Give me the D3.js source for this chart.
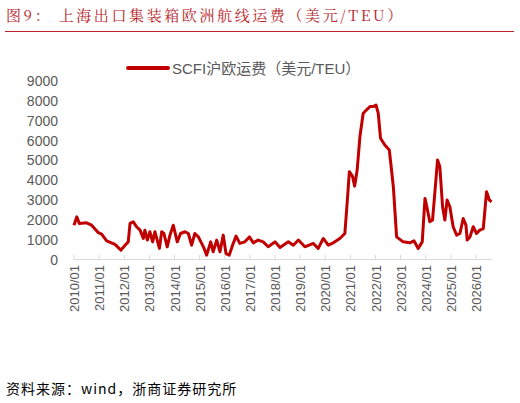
<!DOCTYPE html>
<html><head><meta charset="utf-8">
<script src="https://cdn.jsdelivr.net/npm/d3@7"></script>
<style>body{margin:0;background:#fff}text{font-family:"Liberation Sans","Noto Sans CJK SC",sans-serif}</style>
</head><body>
<svg id="chart" width="520" height="403"></svg>
<script>
// decimal years and SCFI Shanghai-Europe rates (USD/TEU)
const years = [2010.00,2010.11,2010.21,2010.50,2010.70,2010.97,2011.10,2011.30,2011.63,2011.87,2012.03,2012.16,2012.23,2012.36,2012.49,2012.63,2012.76,2012.82,2012.92,2013.02,2013.13,2013.22,2013.40,2013.49,2013.58,2013.71,2013.82,2013.95,2014.11,2014.24,2014.42,2014.55,2014.68,2014.81,2014.95,2015.15,2015.28,2015.44,2015.54,2015.68,2015.81,2015.94,2016.05,2016.18,2016.31,2016.45,2016.60,2016.80,2016.98,2017.14,2017.33,2017.53,2017.73,2018.00,2018.20,2018.53,2018.73,2018.93,2019.19,2019.52,2019.72,2019.92,2020.12,2020.32,2020.58,2020.78,2020.88,2020.96,2021.09,2021.17,2021.27,2021.38,2021.51,2021.64,2021.78,2021.91,2022.02,2022.11,2022.20,2022.37,2022.55,2022.71,2022.84,2023.10,2023.37,2023.53,2023.70,2023.86,2023.97,2024.07,2024.16,2024.27,2024.36,2024.47,2024.56,2024.67,2024.76,2024.85,2024.96,2025.09,2025.23,2025.36,2025.49,2025.60,2025.65,2025.76,2025.89,2026.02,2026.15,2026.29,2026.42,2026.53,2026.62];
const values = [1730,2150,1820,1850,1730,1350,1280,940,760,470,720,890,1820,1900,1650,1480,1060,1480,980,1400,890,1400,560,1400,1310,640,1230,1730,890,1310,1400,1310,720,1310,1140,640,220,890,390,980,390,1230,300,220,720,1180,810,890,1140,840,980,890,640,890,610,890,720,980,640,810,560,1060,720,840,1060,1310,3000,4430,4180,3700,4510,6200,7370,7540,7710,7710,7790,7370,6110,5770,5520,3670,1140,890,840,940,560,890,3080,2490,1900,1990,3330,5020,4680,2660,1990,3000,2660,1650,1230,1310,2070,1730,980,1140,1650,1310,1480,1560,3420,3000,2910];
const tickYears = d3.range(2010, 2027);
const yTicks = d3.range(0, 10000, 1000);
const seriesName = "SCFI沪欧运费（美元/TEU）";

const svg = d3.select("#chart");
const red = "#c00000";

// title
svg.append("text").attr("x", 6).attr("y", 21).attr("fill", "#b8262b")
  .style("font-family", "'Noto Serif CJK SC','Noto Sans CJK SC',serif").style("font-size", "15px")
  .style("letter-spacing", "2.6px")
  .text("图9：  上海出口集装箱欧洲航线运费（美元/TEU）");
svg.append("line").attr("x1", 5).attr("x2", 514).attr("y1", 31.5).attr("y2", 31.5)
  .attr("stroke", "#b8262b").attr("stroke-width", 1);

const x = d3.scaleLinear().domain([2010, 2026]).range([74, 476]);
const y = d3.scaleLinear().domain([0, 9000]).range([259.5, 81]);

// y axis labels
svg.append("g").selectAll("text").data(yTicks).join("text")
  .attr("x", 58).attr("y", d => y(d) + 5).attr("text-anchor", "end")
  .attr("fill", "#595959").style("font-size", "14px").text(d => d);

// x axis
svg.append("line").attr("x1", 74).attr("x2", 492).attr("y1", 259.5).attr("y2", 259.5)
  .attr("stroke", "#d9d9d9").attr("stroke-width", 1);
svg.append("g").selectAll("line").data(tickYears).join("line")
  .attr("x1", d => x(d)).attr("x2", d => x(d)).attr("y1", 255).attr("y2", 259.5)
  .attr("stroke", "#d9d9d9");
svg.append("g").selectAll("text").data(tickYears).join("text")
  .attr("transform", d => `translate(${x(d) + 5},265) rotate(-90)`)
  .attr("text-anchor", "end").attr("fill", "#595959").style("font-size", "13px")
  .text(d => d + "/01");

// series
const line = d3.line().x((d, i) => x(years[i])).y(d => y(d));
svg.append("path").datum(values).attr("d", line).attr("fill", "none")
  .attr("stroke", red).attr("stroke-width", 3).attr("stroke-linejoin", "round");

// legend
svg.append("line").attr("x1", 128).attr("x2", 168).attr("y1", 68).attr("y2", 68)
  .attr("stroke", red).attr("stroke-width", 4).attr("stroke-linecap", "round");
svg.append("text").attr("x", 172).attr("y", 74).attr("fill", "#595959")
  .style("font-size", "15px").text(seriesName);

// source
svg.append("text").attr("x", 6).attr("y", 394).attr("fill", "#000")
  .style("font-family", "'Noto Sans CJK SC',sans-serif").style("font-size", "14px")
  .style("letter-spacing", "1px")
  .text("资料来源：wind，浙商证券研究所");
</script>
</body></html>
